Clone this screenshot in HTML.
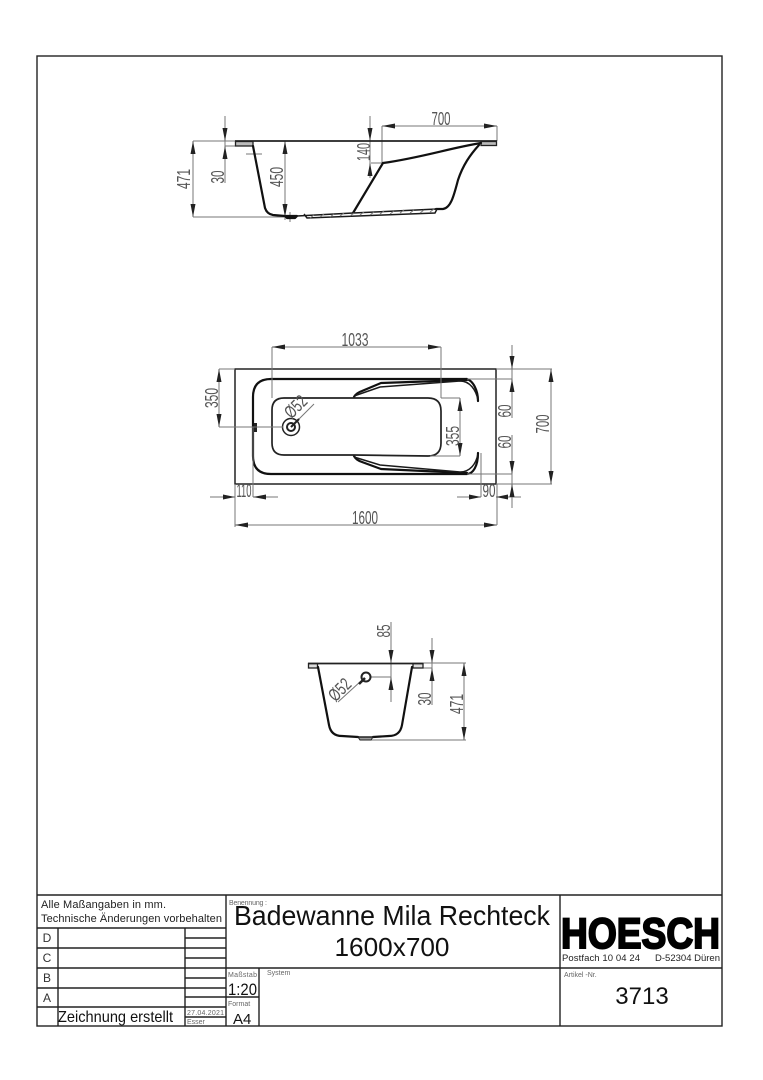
<!DOCTYPE html>
<html><head><meta charset="utf-8"><title>Badewanne Mila Rechteck</title>
<style>
html,body{margin:0;padding:0;background:#fff}
svg{display:block;filter:blur(.3px)}
text{font-family:"Liberation Sans",sans-serif}
.d text,text.d{fill:#555;font-size:18px}
.t{fill:none;stroke:#111;stroke-width:2.2;stroke-linejoin:round;stroke-linecap:round}
.m{fill:none;stroke:#1a1a1a;stroke-width:1.5}
.g{fill:none;stroke:#777;stroke-width:1}
.a{fill:#222}
.f{stroke:#222;stroke-width:1.4;fill:none}
.s{fill:#666;font-size:7px}
</style></head><body>
<svg xmlns="http://www.w3.org/2000/svg" width="763" height="1080" viewBox="0 0 763 1080">
<rect width="763" height="1080" fill="#fff"/>
<rect x="37" y="56" width="685" height="970" class="f"/>

<!-- Side view -->
<g>
<path class="g" d="M382 126H497M382 126V163M497 126V141M370 116V178M225 116V183M193 141V217M285 141V220M193 141H235M225 146H235M371 163H383M193 217H290M246 154H262M290 212V222"/>
<rect x="235.500" y="141.500" width="17.500" height="4.500" fill="#bbb" stroke="#222" stroke-width="1.300"/>
<rect x="481" y="141.500" width="15.500" height="4" fill="#bbb" stroke="#222" stroke-width="1.300"/>
<path d="M235 141H497" stroke="#222" stroke-width="1.800"/>
<path class="t" d="M253 146L265 208Q267 214 273 215L285 216H297L295 218H287L285 216"/>
<path class="t" d="M481 143C450 148 420 158 383 163L353 213"/>
<path class="t" d="M479 145C470 155 463 165 458 180C454 195 451 208 443 209H436"/>
<path class="m" d="M297 216L353 213L437 209M304 214L307 218L435 213L437 209"/>
<path class="g" d="M310 218l4-3M320 217l4-3M330 217l4-3M340 216l4-3M350 216l4-3M360 215l4-3M370 215l4-3M380 214l4-3M390 214l4-3M400 213l4-3M410 213l4-3M420 213l4-3M430 212l4-3" stroke="#333"/>
<path class="a" d="M382 126l13-2.500v5zM497 126l-13-2.500v5zM370 141l-2.500-13h5zM370 163l-2.500 13h5zM225 141l-2.500-13h5zM225 146l-2.500 13h5zM193 141l-2.500 13h5zM193 217l-2.500-13h5zM285 141l-2.500 13h5zM285 217l-2.500-13h5z"/>
<text class="d" x="441" y="125" text-anchor="middle" textLength="19" lengthAdjust="spacingAndGlyphs">700</text>
<text class="d" transform="translate(370 152) rotate(-90)" text-anchor="middle" textLength="18" lengthAdjust="spacingAndGlyphs">140</text>
<text class="d" transform="translate(224 177) rotate(-90)" text-anchor="middle" textLength="13" lengthAdjust="spacingAndGlyphs">30</text>
<text class="d" transform="translate(190 179) rotate(-90)" text-anchor="middle" textLength="20" lengthAdjust="spacingAndGlyphs">471</text>
<text class="d" transform="translate(283 177) rotate(-90)" text-anchor="middle" textLength="20" lengthAdjust="spacingAndGlyphs">450</text>
</g>

<!-- Plan view -->
<g>
<rect x="235" y="369" width="261" height="115" fill="none" stroke="#222" stroke-width="1.500"/>
<path class="t" d="M467 379H271Q253 379 253 397V456Q253 474 271 474H467C473 474 478 466 478 453"/>
<path class="t" d="M467 379C473 381 478 390 478 401"/>
<path class="t" d="M354 397Q356 393 362 391L381 383L467 380"/>
<path class="m" d="M354 396L380 387L460 381C470 381 476 390 478 400"/>
<path class="t" d="M354 456Q356 460 362 462L381 469L467 473"/>
<path class="m" d="M354 457L380 465L460 472C470 472 476 464 478 454"/>
<path d="M354 398H284Q272 398 272 410V443Q272 455 284 455H354L428 456Q441 456 441 443V411Q441 398 428 398Z" fill="none" stroke="#222" stroke-width="1.700"/>
<circle cx="291" cy="427" r="8.500" fill="none" stroke="#222" stroke-width="1.500"/>
<circle cx="291" cy="427" r="4" fill="none" stroke="#222" stroke-width="2"/>
<rect x="254" y="423" width="3" height="9" fill="#222"/>
<path class="g" d="M272 347H441M272 347V398M441 347V398M219 369V427M219 369H235M219 427H283M235 484V527M253 427V497M210 497H235M253 497H278M235 525H497M497 484V525M457 497H481M496 497H521M481 453V497M512 345V418M512 435V508M467 379H512M496 369H552M496 484H552M467 474H512M551 369V484M460 398V456M441 398H460M430 456H460M291 427L314 404"/>
<path class="a" d="M272 347l13-2.500v5zM441 347l-13-2.500v5zM219 369l-2.500 13h5zM219 427l-2.500-13h5zM235 497l-12-2.500v5zM253 497l13-2.500v5zM235 525l13-2.500v5zM497 525l-13-2.500v5zM481 497l-12-2.500v5zM496 497l12-2.500v5zM512 369l-2.500-13h5zM512 379l-2.500 13h5zM512 474l-2.500-13h5zM512 484l-2.500 13h5zM551 369l-2.500 13h5zM551 484l-2.500-13h5zM460 398l-2.500 13h5zM460 456l-2.500-13h5z"/>
<path d="M291 427L299 419" stroke="#222" stroke-width="2"/>
<text class="d" x="355" y="346" text-anchor="middle" textLength="27" lengthAdjust="spacingAndGlyphs">1033</text>
<text class="d" transform="translate(218 398) rotate(-90)" text-anchor="middle" textLength="20" lengthAdjust="spacingAndGlyphs">350</text>
<text class="d" x="244" y="497" text-anchor="middle" textLength="15" lengthAdjust="spacingAndGlyphs">110</text>
<text class="d" x="365" y="524" text-anchor="middle" textLength="26" lengthAdjust="spacingAndGlyphs">1600</text>
<text class="d" x="489" y="497" text-anchor="middle" textLength="13" lengthAdjust="spacingAndGlyphs">90</text>
<text class="d" transform="translate(511 411) rotate(-90)" text-anchor="middle" textLength="13" lengthAdjust="spacingAndGlyphs">60</text>
<text class="d" transform="translate(511 442) rotate(-90)" text-anchor="middle" textLength="13" lengthAdjust="spacingAndGlyphs">60</text>
<text class="d" transform="translate(549 424) rotate(-90)" text-anchor="middle" textLength="19" lengthAdjust="spacingAndGlyphs">700</text>
<text class="d" transform="translate(459 436) rotate(-90)" text-anchor="middle" textLength="20" lengthAdjust="spacingAndGlyphs">355</text>
<text class="d" transform="translate(300 411) rotate(-45)" text-anchor="middle" textLength="24" lengthAdjust="spacingAndGlyphs">Ø52</text>
</g>

<!-- End view -->
<g>
<path class="g" d="M391 622V702M432 638V705M464 663V740M370 677H391M423 663H466M423 668H432M371 740H466M361 681L338 702"/>
<rect x="308.500" y="663.500" width="9" height="4.500" fill="#ddd" stroke="#222" stroke-width="1.300"/>
<rect x="413" y="663.500" width="10" height="4.500" fill="#ddd" stroke="#222" stroke-width="1.300"/>
<path d="M308 663.500H423" stroke="#222" stroke-width="1.800"/>
<path class="t" d="M318 667L329 725Q331 736 342 736L358 737M412 667L402 725Q400 736 389 736L373 737"/>
<path d="M358 737H373L371 740H360Z" fill="#999" stroke="#222"/>
<path d="M358 737H373" stroke="#222" stroke-width="1.500"/>
<circle cx="366" cy="677" r="4.500" fill="none" stroke="#222" stroke-width="2"/>
<path d="M365 678L359 684" stroke="#222" stroke-width="2.500"/>
<path class="a" d="M391 663l-2.500-13h5zM391 677l-2.500 13h5zM432 663l-2.500-13h5zM432 668l-2.500 13h5zM464 663l-2.500 13h5zM464 740l-2.500-13h5z"/>
<text class="d" transform="translate(390 631) rotate(-90)" text-anchor="middle" textLength="13" lengthAdjust="spacingAndGlyphs">85</text>
<text class="d" transform="translate(431 699) rotate(-90)" text-anchor="middle" textLength="13" lengthAdjust="spacingAndGlyphs">30</text>
<text class="d" transform="translate(463 704) rotate(-90)" text-anchor="middle" textLength="20" lengthAdjust="spacingAndGlyphs">471</text>
<text class="d" transform="translate(344 694) rotate(-45)" text-anchor="middle" textLength="24" lengthAdjust="spacingAndGlyphs">Ø52</text>
</g>

<!-- Title block -->
<path class="f" d="M37 895H722M226 895V1026M560 895V1026M37 928H226M37 948H226M37 968H722M37 988H226M37 1007H226M58 928V1026M185 928V1026M185 938H226M185 958H226M185 978H226M185 997H259M185 1017H226M259 968V1026"/>
<text x="41" y="908" font-size="11" fill="#222" textLength="125" lengthAdjust="spacing">Alle Maßangaben in mm.</text>
<text x="41" y="922" font-size="11" fill="#222" textLength="181" lengthAdjust="spacing">Technische Änderungen vorbehalten</text>
<g font-size="12" fill="#333" text-anchor="middle">
<text x="47" y="942">D</text><text x="47" y="962">C</text><text x="47" y="982">B</text><text x="47" y="1002">A</text>
</g>
<text x="58" y="1022" font-size="16" fill="#111" textLength="115" lengthAdjust="spacingAndGlyphs">Zeichnung erstellt</text>
<text class="s" x="187" y="1015" textLength="37">27.04.2021</text>
<text class="s" x="187" y="1024">Esser</text>
<text class="s" x="228" y="977" textLength="29">Maßstab</text>
<text x="228" y="995" font-size="17" fill="#111" textLength="29" lengthAdjust="spacingAndGlyphs">1:20</text>
<text class="s" x="228" y="1006">Format</text>
<text x="233" y="1024" font-size="15" fill="#111">A4</text>
<text class="s" x="229" y="905" textLength="38">Benennung :</text>
<text x="234" y="925" font-size="27.500" fill="#111" textLength="316" lengthAdjust="spacingAndGlyphs">Badewanne Mila Rechteck</text>
<text x="392" y="956" font-size="26" fill="#111" text-anchor="middle" textLength="115" lengthAdjust="spacingAndGlyphs">1600x700</text>
<text class="s" x="267" y="975">System</text>
<text x="561" y="948" font-size="43" font-weight="bold" fill="#000" stroke="#000" stroke-width="2" textLength="159" lengthAdjust="spacingAndGlyphs">HOESCH</text>
<text x="562" y="961" font-size="9.500" fill="#222" textLength="78">Postfach 10 04 24</text>
<text x="720" y="961" font-size="9.500" fill="#222" text-anchor="end">D-52304 Düren</text>
<text class="s" x="564" y="977">Artikel -Nr.</text>
<text x="642" y="1004" font-size="24" fill="#111" text-anchor="middle">3713</text>
</svg>
</body></html>
